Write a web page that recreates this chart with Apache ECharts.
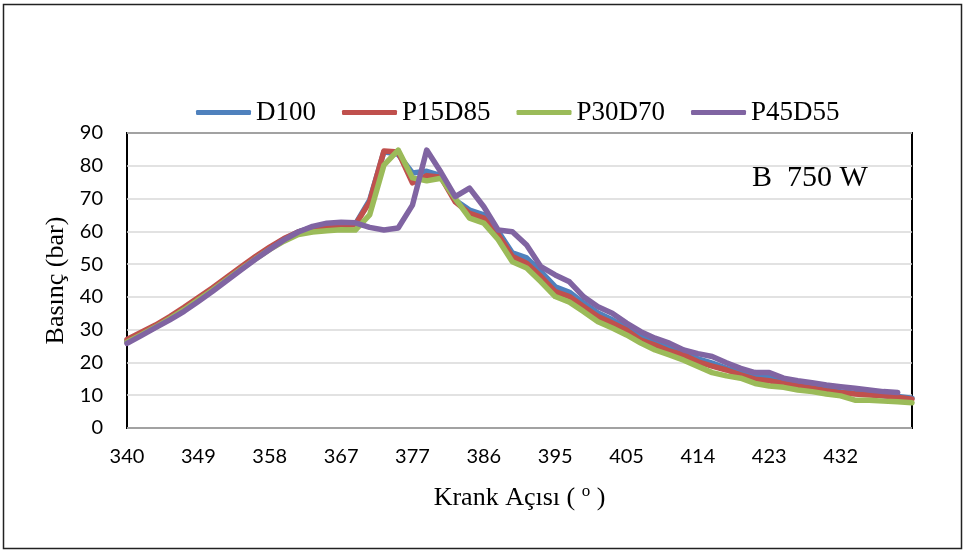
<!DOCTYPE html>
<html>
<head>
<meta charset="utf-8">
<title>Basınç - Krank Açısı</title>
<script src="https://cdn.jsdelivr.net/npm/echarts@6/dist/echarts.min.js"></script>
<style>
	html, body { margin: 0; padding: 0; background: #fff; }
	#chart { width: 967px; height: 554px; }
</style>
</head>
<body>
<div id="chart"></div>
<script>
// crank angles (one category per sample, only every 5th one is labelled)
let angles = [
	'340', '341.8', '343.7', '345.5', '347.4',
	'349', '351.0', '352.9', '354.7', '356.6',
	'358', '360.2', '362.1', '363.9', '365.8',
	'367', '369.4', '371.3', '373.1', '375.0',
	'377', '378.6', '380.5', '382.3', '384.2',
	'386', '387.8', '389.7', '391.5', '393.4',
	'395', '397.0', '398.9', '400.7', '402.6',
	'405', '406.2', '408.1', '409.9', '411.8',
	'414', '415.4', '417.3', '419.1', '421.0',
	'423', '424.6', '426.5', '428.3', '430.2',
	'432', '433.8', '435.7', '437.5', '439.4',
	'441.2'
];

// pressure values (bar)
let d100 = [
	26.5, 28.8, 31.0, 33.6, 36.3, 39.3, 42.3, 45.6, 48.8, 51.9,
	54.9, 57.6, 59.8, 61.2, 61.8, 62.0, 62.2, 69.5, 84.3, 83.5,
	77.8, 78.3, 77.0, 69.5, 66.5, 65.0, 60.0, 53.4, 51.9, 47.7,
	43.1, 41.4, 38.1, 35.1, 33.0, 30.5, 27.9, 25.9, 24.4, 22.9,
	21.1, 19.8, 18.2, 16.9, 15.9, 15.5, 14.1, 13.4, 12.8, 12.1,
	11.1, 10.6, 10.4, 9.8, 9.6, 9.1
];
let p15d85 = [
	27.0, 29.2, 31.4, 34.0, 36.8, 39.8, 42.8, 46.0, 49.2, 52.3,
	55.2, 57.8, 59.8, 61.0, 61.5, 61.8, 62.0, 69.0, 84.5, 84.2,
	74.8, 77.0, 76.5, 69.0, 65.5, 64.0, 59.0, 52.3, 50.3, 46.2,
	41.6, 40.1, 37.0, 34.0, 32.0, 29.9, 26.8, 25.3, 23.5, 22.3,
	20.2, 18.9, 17.7, 16.2, 14.9, 14.4, 13.6, 12.8, 12.1, 11.4,
	10.8, 10.4, 10.1, 9.8, 9.4, 8.8
];
let p30d70 = [
	26.2, 28.5, 30.8, 33.4, 36.1, 39.1, 42.1, 45.3, 48.5, 51.6,
	54.5, 57.0, 59.0, 59.8, 60.2, 60.5, 60.4, 65.0, 80.2, 84.8,
	76.3, 75.4, 76.2, 70.0, 64.0, 62.5, 57.5, 50.7, 48.8, 44.6,
	40.1, 38.4, 35.5, 32.4, 30.5, 28.4, 25.9, 23.8, 22.3, 20.7,
	18.8, 16.9, 15.9, 15.2, 13.6, 12.8, 12.4, 11.6, 11.1, 10.4,
	9.8, 8.5, 8.5, 8.2, 8.0, 7.7
];
let p45d55 = [
	25.8, 28.2, 30.6, 33.0, 35.6, 38.6, 41.7, 45.0, 48.3, 51.5,
	54.5, 57.4, 59.8, 61.5, 62.5, 62.8, 62.6, 61.2, 60.4, 61.0,
	68.0, 84.8, 78.0, 70.6, 73.2, 67.5, 60.4, 59.9, 55.8, 49.2,
	46.7, 44.6, 40.0, 37.0, 35.0, 32.0, 29.4, 27.4, 25.9, 23.8,
	22.7, 21.8, 19.9, 18.2, 16.9, 16.9, 15.2, 14.4, 13.8, 13.1,
	12.6, 12.1, 11.6, 11.1, 10.8
];

let seriesNames = ['D100', 'P15D85', 'P30D70', 'P45D55'];
let seriesData = [d100, p15d85, p30d70, p45d55];
let colors = ['#4F81BD', '#C0504D', '#9BBB59', '#8064A2'];
let yTicks = { min: 0, max: 90, step: 10 };
let annotation = 'B  750 W';

let serif = '"Liberation Serif", "Times New Roman", serif';
let sans = 'Lato, "Open Sans", sans-serif';

let chart = echarts.init(document.getElementById('chart'), null, { renderer: 'canvas' });

let series = seriesNames.map((name, i) => {
	return {
		name: name,
		type: 'line',
		data: seriesData[i],
		symbol: 'none',
		showSymbol: false,
		smooth: false,
		lineStyle: { color: colors[i], width: 5.5, cap: 'round', join: 'round' },
		itemStyle: { color: colors[i] }
	};
});

let option = {
	animation: false,
	backgroundColor: '#fff',
	grid: {
		left: 127,
		top: 133,
		width: 785,
		height: 295,
		show: true,
		borderColor: '#000',
		borderWidth: 2,
		backgroundColor: 'transparent'
	},
	legend: {
		data: seriesNames,
		left: 196,
		top: 99,
		padding: 0,
		itemWidth: 55,
		itemHeight: 5,
		itemGap: 26,
		icon: 'roundRect',
		textStyle: { fontFamily: serif, fontSize: 27, color: '#000' }
	},
	xAxis: {
		type: 'category',
		data: angles,
		boundaryGap: false,
		axisLine: { show: false },
		axisTick: { show: false },
		axisLabel: {
			//only every 5th angle up to 432 is labelled
			interval: (idx) => idx % 5 === 0 && idx <= 50,
			margin: 19,
			fontFamily: sans,
			fontSize: 20,
			color: '#000'
		},
		splitLine: { show: false },
		name: '{a|Krank Açısı ( }{s|o}{a| )}',
		nameLocation: 'middle',
		nameGap: 55,
		nameTextStyle: {
			rich: {
				a: { fontFamily: serif, fontSize: 26, lineHeight: 30, color: '#000' },
				s: { fontFamily: serif, fontSize: 17, lineHeight: 17, verticalAlign: 'top', color: '#000' }
			}
		}
	},
	yAxis: {
		type: 'value',
		min: yTicks.min,
		max: yTicks.max,
		interval: yTicks.step,
		axisLine: { show: false },
		axisTick: { show: false },
		axisLabel: { margin: 24, fontFamily: sans, fontSize: 20, color: '#000' },
		splitLine: { lineStyle: { color: '#d9d9d9', width: 1.5 } },
		name: 'Basınç (bar)',
		nameLocation: 'middle',
		nameGap: 58,
		nameTextStyle: { fontFamily: serif, fontSize: 26, color: '#000' }
	},
	graphic: [
		{
			type: 'rect',
			shape: { x: 3.5, y: 4.5, width: 958, height: 544 },
			style: { fill: 'none', stroke: '#222', lineWidth: 1.5 },
			silent: true
		},
		{
			type: 'text',
			x: 752,
			y: 178,
			style: {
				text: annotation,
				font: '30px ' + serif,
				fill: '#000',
				verticalAlign: 'middle'
			}
		}
	],
	series: series
};

chart.setOption(option);
</script>
</body>
</html>
